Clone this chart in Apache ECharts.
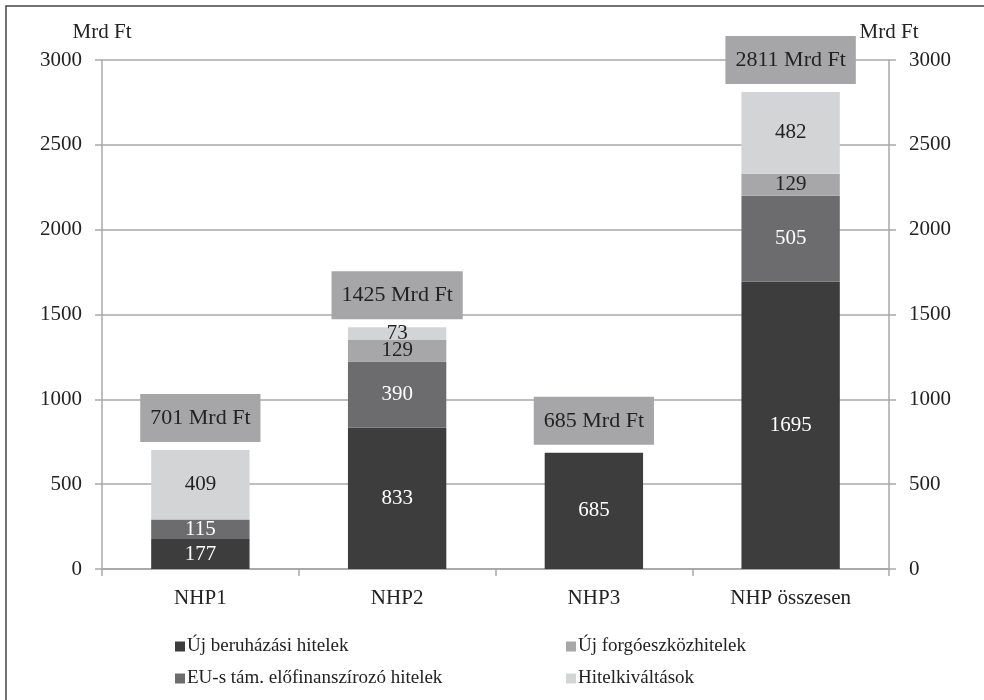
<!DOCTYPE html>
<html>
<head>
<meta charset="utf-8">
<script src="https://cdn.jsdelivr.net/npm/echarts@6/dist/echarts.min.js"></script>
<style>
  html, body { margin: 0; padding: 0; background: #fff; }
  #chart { width: 984px; height: 700px; }
</style>
</head>
<body>
<div id="chart"></div>
<script>
// adatok
const categories = ['NHP1', 'NHP2', 'NHP3', 'NHP összesen']
const beruhazasi = [177, 833, 685, 1695]
const euElofin = [115, 390, 0, 505]
const forgoeszkoz = [0, 129, 0, 129]
const kivaltas = [409, 73, 0, 482]
const totals = [701, 1425, 685, 2811]
const yTicks = [0, 500, 1000, 1500, 2000, 2500, 3000]

const FONT = 'Liberation Serif'
const TEXT = '#222'
const GRID = '#a9a9a9'

const chart = echarts.init(document.getElementById('chart'))

function segLabel(color) {
  return {
    show: true,
    position: 'inside',
    color: color,
    fontFamily: FONT,
    fontSize: 21,
    formatter: p => (p.value ? String(p.value) : '')
  }
}

function yAxisOf(pos) {
  return {
    type: 'value',
    position: pos,
    min: yTicks[0],
    max: yTicks[yTicks.length - 1],
    interval: 500,
    name: 'Mrd Ft',
    nameGap: 17,
    nameTextStyle: { color: TEXT, fontFamily: FONT, fontSize: 21 },
    axisLine: { show: true, lineStyle: { color: GRID, width: 1.5 } },
    axisTick: { show: true, length: 7, inside: false, lineStyle: { color: GRID, width: 1.5 } },
    axisLabel: { color: TEXT, fontFamily: FONT, fontSize: 21, margin: 20, formatter: v => String(v) },
    splitLine: { show: pos === 'left', lineStyle: { color: GRID, width: 1.5 } }
  }
}

function legendAt(left, names) {
  return {
    orient: 'vertical',
    left: left,
    top: 632,
    itemWidth: 10,
    itemHeight: 10,
    itemGap: 13,
    icon: 'rect',
    textStyle: { color: TEXT, fontFamily: FONT, fontSize: 19, padding: [0, 0, 0, -3] },
    data: names
  }
}

chart.setOption({
  backgroundColor: '#fff',
  animation: false,
  graphic: [{
    type: 'rect',
    shape: { x: 6, y: 6, width: 1000, height: 720 },
    style: { fill: 'none', stroke: '#444', lineWidth: 1.5 },
    z: 100
  }],
  grid: { left: 102, right: 95, top: 60, bottom: 131 },
  legend: [
    legendAt(170, ['Új beruházási hitelek', 'EU-s tám. előfinanszírozó hitelek']),
    legendAt(561, ['Új forgóeszközhitelek', 'Hitelkiváltások'])
  ],
  xAxis: {
    type: 'category',
    data: categories,
    axisLine: { lineStyle: { color: GRID, width: 2 } },
    axisTick: { show: true, length: 7, lineStyle: { color: GRID, width: 1.5 } },
    axisLabel: { color: TEXT, fontFamily: FONT, fontSize: 21, margin: 19 }
  },
  yAxis: [yAxisOf('left'), yAxisOf('right')],
  series: [
    {
      name: 'Új beruházási hitelek', type: 'bar', stack: 'nhp', barWidth: '50%',
      data: beruhazasi, itemStyle: { color: '#3d3d3d' }, label: segLabel('#fff')
    },
    {
      name: 'EU-s tám. előfinanszírozó hitelek', type: 'bar', stack: 'nhp',
      data: euElofin, itemStyle: { color: '#6c6c6f' }, label: segLabel('#fff')
    },
    {
      name: 'Új forgóeszközhitelek', type: 'bar', stack: 'nhp',
      data: forgoeszkoz, itemStyle: { color: '#a7a7a9' }, label: segLabel(TEXT)
    },
    {
      name: 'Hitelkiváltások', type: 'bar', stack: 'nhp',
      data: kivaltas, itemStyle: { color: '#d3d4d6' }, label: segLabel(TEXT)
    },
    {
      name: 'összesen', type: 'bar', barWidth: '50%', barGap: '-100%',
      data: totals,
      itemStyle: { color: 'rgba(0,0,0,0)' },
      z: 1,
      label: {
        show: true,
        position: 'top',
        distance: 8,
        formatter: p => p.value + ' Mrd Ft',
        color: TEXT,
        fontFamily: FONT,
        fontSize: 22,
        backgroundColor: '#a6a6a8',
        padding: [13, 10, 13, 10]
      }
    }
  ]
})
</script>
</body>
</html>
